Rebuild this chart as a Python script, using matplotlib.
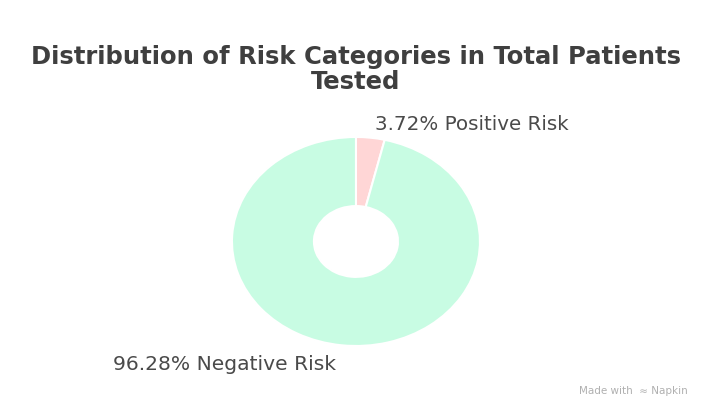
import matplotlib
matplotlib.use("Agg")
import matplotlib.pyplot as plt

categories = ["Positive Risk", "Negative Risk"]
values = [3.72, 96.28]
colors = ["#FFD6D6", "#C8FCE3"]
title = "Distribution of Risk Categories in Total Patients\nTested"

fig = plt.figure(figsize=(7.12, 4.16), dpi=100)
fig.patch.set_facecolor("white")

ax = fig.add_axes([0.3258, 0.1683, 0.3483, 0.5024])
ax.pie(values, colors=colors, startangle=90, counterclock=False, radius=1.0,
       wedgeprops=dict(width=0.661, edgecolor="white", linewidth=1.5))
ax.set_aspect("auto")
ax.set_xlim(-1, 1)
ax.set_ylim(-1, 1)
ax.axis("off")

fig.text(0.5, 1 - 69.5/416, title, ha="center", va="center", fontsize=17.5,
         fontweight="bold", family="DejaVu Sans", color="#3f3f3f", linespacing=1.1)

fig.text(375/712, 1 - 124/416, f"{values[0]:.2f}% {categories[0]}", ha="left", va="center",
         fontsize=14.3, family="DejaVu Sans", color="#4a4a4a")
fig.text(113/712, 1 - 364/416, f"{values[1]:.2f}% {categories[1]}", ha="left", va="center",
         fontsize=14.6, family="DejaVu Sans", color="#4a4a4a")

fig.text(688/712, 1 - 391/416, "Made with  \u2248 Napkin", ha="right", va="center",
         fontsize=7.5, family="DejaVu Sans", color="#b0b0b0")

fig.savefig("out.png", dpi=100, facecolor="white")
